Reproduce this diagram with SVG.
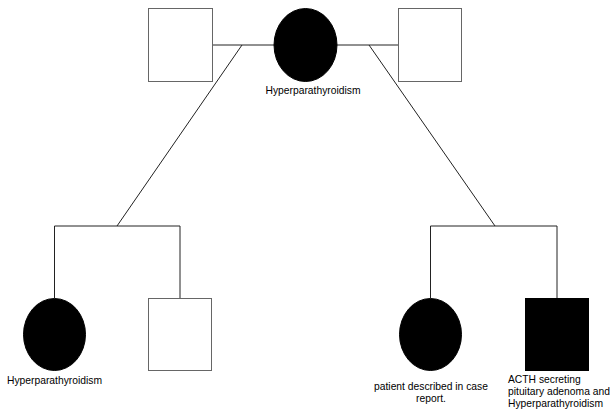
<svg xmlns="http://www.w3.org/2000/svg" width="613" height="417" viewBox="0 0 613 417">
<style>
.line{stroke:#222;stroke-width:1;fill:none}
.sq{fill:#fff;stroke:#666;stroke-width:1}
.aff{fill:#000;stroke:#000;stroke-width:1}
text{font-family:"Liberation Sans",Arial,sans-serif;font-size:10.3px;fill:#000}
</style>
<rect width="613" height="417" fill="#fff"/>
<g id="connectors">
<line class="line" x1="212" y1="45" x2="274" y2="45"/>
<line class="line" x1="337" y1="45" x2="398" y2="45"/>
<line class="line" x1="242" y1="45" x2="117" y2="226"/>
<line class="line" x1="369" y1="45" x2="495" y2="226"/>
<polyline class="line" points="54.5,298 54.5,226 180,226 180,298"/>
<polyline class="line" points="430.5,298 430.5,226 557,226 557,298"/>
</g>
<g id="grandfather">
<rect class="sq" x="148.5" y="8.5" width="64" height="73"/>
</g>
<g id="grandmother">
<ellipse class="aff" cx="305.5" cy="45" rx="31.5" ry="36.5"/>
<text x="313" y="94" text-anchor="middle">Hyperparathyroidism</text>
</g>
<g id="grandfather2">
<rect class="sq" x="398.5" y="8.5" width="63" height="73"/>
</g>
<g id="daughter-left">
<ellipse class="aff" cx="54.5" cy="334.5" rx="31" ry="36"/>
<text x="7" y="384">Hyperparathyroidism</text>
</g>
<g id="son-left">
<rect class="sq" x="148.5" y="298.5" width="63" height="72"/>
</g>
<g id="patient">
<ellipse class="aff" cx="430.5" cy="334.5" rx="31" ry="36"/>
<text x="431" y="390" text-anchor="middle">patient described in case</text>
<text x="431" y="402" text-anchor="middle">report.</text>
</g>
<g id="brother">
<rect class="aff" x="525.5" y="298.5" width="63" height="72"/>
<text x="508" y="383">ACTH secreting</text>
<text x="508" y="395">pituitary adenoma and</text>
<text x="508" y="407">Hyperparathyroidism</text>
</g>
</svg>
